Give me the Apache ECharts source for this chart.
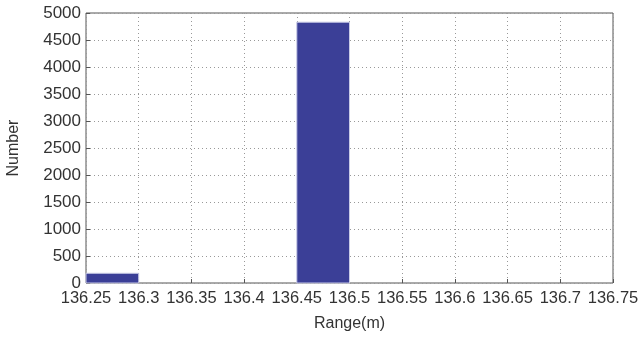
<!DOCTYPE html>
<html><head><meta charset="utf-8">
<script src="https://cdn.jsdelivr.net/npm/echarts@6/dist/echarts.min.js"></script>
<style>html,body{margin:0;padding:0;background:#fff}#c{width:641px;height:342px}</style>
</head><body><div id="c"></div>
<script>
var binStarts = [136.25, 136.45];
var binWidth = 0.05;
var counts = [180, 4830];
var xTicks = [136.25,136.3,136.35,136.4,136.45,136.5,136.55,136.6,136.65,136.7,136.75];

var chart = echarts.init(document.getElementById('c'));
var data = binStarts.map(function(s,i){return [s, s+binWidth, counts[i]];});
chart.setOption({
  animation:false,
  grid:{left:86,right:28,top:13,bottom:59,show:true,borderColor:'#555',borderWidth:1,
    outerBoundsMode:'none',containLabel:false},
  xAxis:{type:'value',min:136.25,max:136.75,interval:0.05,
    name:'Range(m)',nameLocation:'middle',nameGap:33,
    nameTextStyle:{fontFamily:'Liberation Sans',fontSize:16,color:'#333'},
    axisLine:{show:false},
    axisTick:{show:true,inside:true,length:4,lineStyle:{color:'#555'}},
    axisLabel:{fontFamily:'Liberation Sans',fontSize:16.5,color:'#333',margin:7,hideOverlap:false,
      formatter:function(v){return String(parseFloat(v.toFixed(2)));}},
    splitLine:{show:true,lineStyle:{type:[1,3],color:'#999'}}},
  yAxis:{type:'value',min:0,max:5000,interval:500,
    name:'Number',nameLocation:'middle',nameGap:64,
    nameTextStyle:{fontFamily:'Liberation Sans',fontSize:16,color:'#333'},
    axisLine:{show:false},
    axisTick:{show:true,inside:true,length:4,lineStyle:{color:'#555'}},
    axisLabel:{fontFamily:'Liberation Sans',fontSize:17,color:'#333',margin:5,
      formatter:function(v){return String(v);}},
    splitLine:{show:true,lineStyle:{type:[1,3],color:'#999'}}},
  series:[{type:'custom',
    renderItem:function(params,api){
      var p0=api.coord([api.value(0),api.value(2)]);
      var p1=api.coord([api.value(1),0]);
      return {type:'rect',shape:{x:p0[0],y:p0[1],width:p1[0]-p0[0],height:p1[1]-p0[1]},
        style:{fill:'#3b3f97',stroke:'#c9cbe6',lineWidth:1}};
    },
    encode:{x:[0,1],y:2},
    data:data}]
});
</script></body></html>
